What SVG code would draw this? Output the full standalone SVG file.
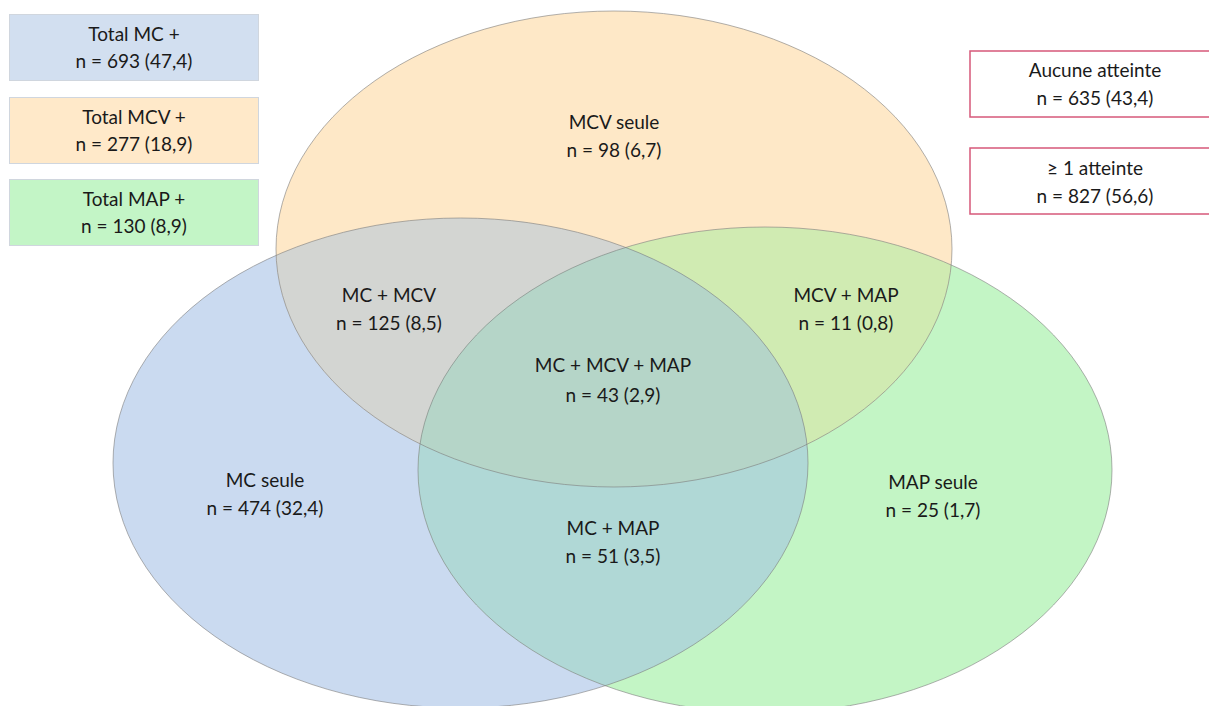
<svg xmlns="http://www.w3.org/2000/svg" width="1209" height="706" viewBox="0 0 1209 706">
<style>
text{font-family:Lato,"Open Sans","Liberation Sans",sans-serif;font-size:19px;fill:#1a1a1a;text-anchor:middle}
.outline{fill:none;stroke:#7d7d7d;stroke-opacity:0.6;stroke-width:1}
.lbox{stroke:#d0d6de;stroke-width:1}
.rbox{fill:#ffffff;stroke:#d6587a;stroke-width:1.5}
</style>
<defs>
<clipPath id="cB"><ellipse cx="460.5" cy="463" rx="347.5" ry="245"/></clipPath>
<clipPath id="cG"><ellipse cx="765" cy="470" rx="347" ry="243"/></clipPath>
<clipPath id="cO"><ellipse cx="614" cy="249" rx="338" ry="238"/></clipPath>
</defs>
<rect width="1209" height="706" fill="#ffffff"/>
<g id="venn">
<ellipse cx="460.5" cy="463" rx="347.5" ry="245" fill="#cadaf0"/>
<ellipse cx="765" cy="470" rx="347" ry="243" fill="#c3f5c5"/>
<ellipse cx="614" cy="249" rx="338" ry="238" fill="#fee8c7"/>
<ellipse cx="460.5" cy="463" rx="347.5" ry="245" fill="#d3d5d2" clip-path="url(#cO)"/>
<ellipse cx="765" cy="470" rx="347" ry="243" fill="#d0ebb2" clip-path="url(#cO)"/>
<ellipse cx="460.5" cy="463" rx="347.5" ry="245" fill="#b0d8d6" clip-path="url(#cG)"/>
<g clip-path="url(#cG)"><ellipse cx="460.5" cy="463" rx="347.5" ry="245" fill="#b5d5c8" clip-path="url(#cO)"/></g>
<ellipse class="outline" cx="460.5" cy="463" rx="347.5" ry="245"/>
<ellipse class="outline" cx="765" cy="470" rx="347" ry="243"/>
<ellipse class="outline" cx="614" cy="249" rx="338" ry="238"/>
</g>
<g id="mcv-seule"><text x="614" y="129">MCV seule</text><text x="614" y="157">n = 98 (6,7)</text></g>
<g id="mc-mcv"><text x="389" y="302">MC + MCV</text><text x="389" y="330">n = 125 (8,5)</text></g>
<g id="mcv-map"><text x="846" y="302">MCV + MAP</text><text x="846" y="330">n = 11 (0,8)</text></g>
<g id="triple"><text x="613" y="372">MC + MCV + MAP</text><text x="613" y="402">n = 43 (2,9)</text></g>
<g id="mc-seule"><text x="265" y="487">MC seule</text><text x="265" y="515">n = 474 (32,4)</text></g>
<g id="map-seule"><text x="933" y="489">MAP seule</text><text x="933" y="517">n = 25 (1,7)</text></g>
<g id="mc-map"><text x="613" y="535">MC + MAP</text><text x="613" y="563">n = 51 (3,5)</text></g>
<g id="total-mc"><rect class="lbox" x="9.5" y="14.5" width="249" height="66" fill="#d2dff0"/><text x="134" y="41">Total MC +</text><text x="134" y="68">n = 693 (47,4)</text></g>
<g id="total-mcv"><rect class="lbox" x="9.5" y="97.5" width="249" height="66" fill="#ffe9c9"/><text x="134" y="124">Total MCV +</text><text x="134" y="151">n = 277 (18,9)</text></g>
<g id="total-map"><rect class="lbox" x="9.5" y="179.5" width="249" height="66" fill="#c3f5c6"/><text x="134" y="206">Total MAP +</text><text x="134" y="233">n = 130 (8,9)</text></g>
<g id="aucune"><rect class="rbox" x="970" y="51" width="320" height="66"/><text x="1095" y="77">Aucune atteinte</text><text x="1095" y="105">n = 635 (43,4)</text></g>
<g id="au-moins-un"><rect class="rbox" x="970" y="148" width="320" height="66"/><text x="1095" y="175">≥ 1 atteinte</text><text x="1095" y="203">n = 827 (56,6)</text></g>
</svg>
